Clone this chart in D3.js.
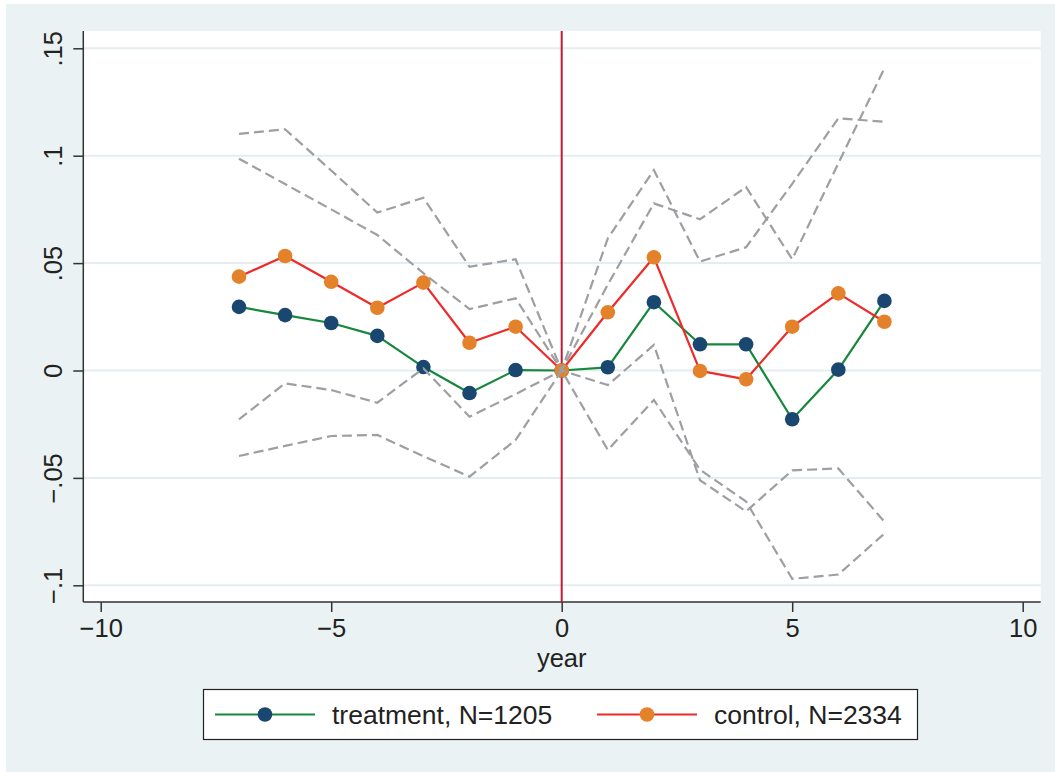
<!DOCTYPE html>
<html>
<head>
<meta charset="utf-8">
<script src="https://cdn.jsdelivr.net/npm/d3@7"></script>
<style>
  body { margin: 0; background: #ffffff; }
  svg { display: block; }
  text { font-family: "Liberation Sans", Arial, Helvetica, sans-serif; fill: #222; }
</style>
</head>
<body>
<svg id="chart" width="1055" height="772"></svg>
<script>
// Event-study estimates by year relative to treatment
const years = [-7, -6, -5, -4, -3, -2, -1, 0, 1, 2, 3, 4, 5, 6, 7];

const treatment   = [0.0296, 0.0258, 0.0221, 0.0161, 0.0016, -0.0105, 0.0002, 0, 0.0015, 0.0318, 0.0122, 0.0122, -0.0227, 0.0004, 0.0324];
const treatmentHi = [0.0986, 0.0868, 0.0750, 0.0631, 0.0453, 0.0286, 0.0336, 0, 0.0400, 0.0778, 0.0704, 0.0854, 0.0518, 0.0964, 0.1407];
const treatmentLo = [-0.0398, -0.0351, -0.0305, -0.0300, -0.0399, -0.0494, -0.0324, 0, -0.0370, -0.0137, -0.0462, -0.0610, -0.0970, -0.0950, -0.0759];

const control   = [0.0437, 0.0533, 0.0413, 0.0292, 0.0409, 0.0129, 0.0204, 0, 0.0271, 0.0527, -0.0002, -0.0041, 0.0204, 0.0359, 0.0227];
const controlHi = [0.1102, 0.1123, 0.0931, 0.0735, 0.0804, 0.0483, 0.0518, 0, 0.0615, 0.0933, 0.0507, 0.0574, 0.0869, 0.1174, 0.1158];
const controlLo = [-0.0227, -0.0060, -0.0091, -0.0150, 0.0010, -0.0215, -0.0110, 0, -0.0068, 0.0119, -0.0511, -0.0656, -0.0465, -0.0456, -0.0704];

const xTicks = [-10, -5, 0, 5, 10];
const xTickLabels = ["\u221210", "\u22125", "0", "5", "10"];
const yTicks = [-0.1, -0.05, 0, 0.05, 0.1, 0.15];
const yTickLabels = ["\u2212.1", "\u2212.05", "0", ".05", ".1", ".15"];

const seriesNames = ["treatment, N=1205", "control, N=2334"];
const xTitle = "year";

// Colours
const bgColor = "#EAF2F3";
const gridColor = "#E5EDF0";
const treatLine = "#16873D";
const treatMarker = "#1A476F";
const ctrlLine = "#EE2A2A";
const ctrlMarker = "#E3822B";
const ciColor = "#9E9EA3";
const refColor = "#C21A36";

const svg = d3.select("#chart");

// Plot region
const plot = { left: 83.3, right: 1040.7, top: 31, bottom: 602 };

const x = d3.scaleLinear().domain([-10, 10]).range([100.7, 1022.7]);
const y = d3.scaleLinear().domain([-0.1, 0.15]).range([585.3, 48.3]);

// Backgrounds
svg.append("rect").attr("x", 6).attr("y", 4).attr("width", 1049).attr("height", 768).attr("fill", bgColor);
svg.append("rect")
  .attr("x", plot.left).attr("y", plot.top)
  .attr("width", plot.right - plot.left).attr("height", plot.bottom - plot.top)
  .attr("fill", "#ffffff");

// Horizontal grid lines
svg.append("g").selectAll("line").data(yTicks).join("line")
  .attr("x1", plot.left).attr("x2", plot.right)
  .attr("y1", d => y(d)).attr("y2", d => y(d))
  .attr("stroke", gridColor).attr("stroke-width", 2);

// Axes
const fontSize = 25.5;
const yAxis = svg.append("g").attr("transform", `translate(${plot.left},0)`)
  .call(d3.axisLeft(y).tickValues(yTicks).tickSize(10)
    .tickFormat((d, i) => yTickLabels[i]));
yAxis.select(".domain").remove();
yAxis.selectAll(".tick line").attr("stroke", "#333").attr("stroke-width", 1.5);
yAxis.selectAll(".tick text")
  .attr("x", 0).attr("y", -21).attr("dy", null)
  .attr("text-anchor", "middle")
  .attr("transform", "rotate(-90)")
  .style("font-size", fontSize + "px")
  .attr("fill", "#222");

const xAxis = svg.append("g").attr("transform", `translate(0,${plot.bottom})`)
  .call(d3.axisBottom(x).tickValues(xTicks).tickSize(10)
    .tickFormat((d, i) => xTickLabels[i]));
xAxis.select(".domain").remove();
xAxis.selectAll(".tick line").attr("stroke", "#333").attr("stroke-width", 1.5);
xAxis.selectAll(".tick text")
  .attr("y", 35).attr("dy", null)
  .style("font-size", fontSize + "px")
  .attr("fill", "#222");

// Axis lines along the plot region
svg.append("line").attr("x1", plot.left).attr("x2", plot.left)
  .attr("y1", plot.top).attr("y2", plot.bottom)
  .attr("stroke", "#333").attr("stroke-width", 1.5);
svg.append("line").attr("x1", plot.left).attr("x2", plot.right)
  .attr("y1", plot.bottom).attr("y2", plot.bottom)
  .attr("stroke", "#333").attr("stroke-width", 1.5);

svg.append("text").attr("x", x(0)).attr("y", 667)
  .attr("text-anchor", "middle").style("font-size", fontSize + "px")
  .text(xTitle);

// Reference line at year 0
svg.append("line").attr("x1", x(0)).attr("x2", x(0))
  .attr("y1", plot.top).attr("y2", plot.bottom)
  .attr("stroke", refColor).attr("stroke-width", 2);

const line = d3.line().x(d => x(d[0])).y(d => y(d[1]));
const pairs = vals => years.map((yr, i) => [yr, vals[i]]);

function drawSeries(vals, lineColor, markerColor) {
  svg.append("path").datum(pairs(vals))
    .attr("d", line).attr("fill", "none")
    .attr("stroke", lineColor).attr("stroke-width", 2.2)
    .attr("stroke-linejoin", "round");
  svg.append("g").selectAll("circle").data(pairs(vals)).join("circle")
    .attr("cx", d => x(d[0])).attr("cy", d => y(d[1]))
    .attr("r", 7.3).attr("fill", markerColor);
}

drawSeries(treatment, treatLine, treatMarker);
drawSeries(control, ctrlLine, ctrlMarker);

// Confidence bounds (dashed)
[treatmentHi, treatmentLo, controlHi, controlLo].forEach(vals => {
  svg.append("path").datum(pairs(vals))
    .attr("d", line).attr("fill", "none")
    .attr("stroke", ciColor).attr("stroke-width", 2.2)
    .attr("stroke-dasharray", "10,5");
});

// Legend
const legend = svg.append("g");
legend.append("rect").attr("x", 203.5).attr("y", 689.5)
  .attr("width", 714).attr("height", 50)
  .attr("fill", "#ffffff").attr("stroke", "#222").attr("stroke-width", 1.2);

const legendFont = 26.5;
const legendItems = [
  { name: seriesNames[0], line: treatLine, marker: treatMarker, x0: 215 },
  { name: seriesNames[1], line: ctrlLine, marker: ctrlMarker, x0: 597 }
];
legendItems.forEach(it => {
  const cy = 714.5;
  legend.append("line").attr("x1", it.x0).attr("x2", it.x0 + 100)
    .attr("y1", cy).attr("y2", cy)
    .attr("stroke", it.line).attr("stroke-width", 2.2);
  legend.append("circle").attr("cx", it.x0 + 50).attr("cy", cy).attr("r", 7.3)
    .attr("fill", it.marker);
  legend.append("text").attr("x", it.x0 + 117).attr("y", cy + 9.5)
    .style("font-size", legendFont + "px").text(it.name);
});
</script>
</body>
</html>
